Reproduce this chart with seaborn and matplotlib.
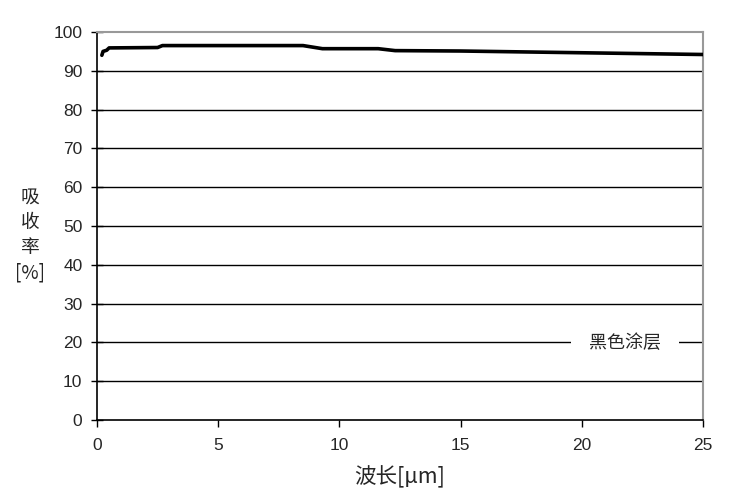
import matplotlib
matplotlib.use("Agg")
import matplotlib.pyplot as plt
import seaborn as sns
import pandas as pd

wavelength = [0.2, 0.25, 0.4, 0.5, 2.5, 2.7, 8.5, 9.3, 11.6, 12.3, 15.0, 25.0]
absorption = [94.0, 95.0, 95.3, 95.9, 96.0, 96.5, 96.5, 95.7, 95.7, 95.2, 95.1, 94.2]
series_name = "黑色涂层"
x_ticks = [0, 5, 10, 15, 20, 25]
y_ticks = [0, 10, 20, 30, 40, 50, 60, 70, 80, 90, 100]

sns.set_theme(style="white")
plt.rcParams['font.family'] = ['Liberation Sans', 'Noto Sans CJK SC', 'DejaVu Sans']

df = pd.DataFrame({"wavelength": wavelength, "absorption": absorption, "series": series_name})

fig = plt.figure(figsize=(7.29, 5.03), dpi=100)
ax = fig.add_axes([97/729, 83/503, 606/729, 388/503])

for v in y_ticks[1:-1]:
    ax.axhline(v, color="black", lw=1.0, zorder=1)

sns.lineplot(data=df, x="wavelength", y="absorption", hue="series",
             palette=["black"], linewidth=2.6, ax=ax, zorder=3)

ax.set_xlim(0, 25)
ax.set_ylim(0, 100)
ax.set_xticks(x_ticks)
ax.set_yticks(y_ticks)
ax.tick_params(axis="x", direction="out", length=5, width=1, color="black",
               labelsize=12.5, pad=8, bottom=True)
ax.tick_params(axis="y", direction="inout", length=9, width=1, color="black",
               labelsize=12.5, pad=6, left=True)

for s in ["left", "bottom"]:
    ax.spines[s].set_color("black")
    ax.spines[s].set_linewidth(1.2)
for s in ["top", "right"]:
    ax.spines[s].set_color("#999999")
    ax.spines[s].set_linewidth(1.5)

ax.set_xlabel("波长[μm]", fontsize=15.5, labelpad=9,
              family=['Noto Sans CJK SC', 'DejaVu Sans'])
ax.set_ylabel("")
fig.text(30/729, 1 - 235/503, "吸\n收\n率\n[%]", fontsize=13.5, ha="center", va="center",
         linespacing=1.25, family=['Noto Sans CJK SC', 'DejaVu Sans'])

leg = ax.legend(loc="center", bbox_to_anchor=(0.871, 0.198), handlelength=0,
                handletextpad=0, frameon=True, fancybox=False, borderpad=1.0,
                prop={'family': ['Noto Sans CJK SC', 'DejaVu Sans'], 'size': 13})
for h in leg.legend_handles:
    h.set_visible(False)
leg.get_frame().set_facecolor("white")
leg.get_frame().set_edgecolor("none")
leg.get_frame().set_alpha(1)
leg.set_zorder(5)

fig.savefig("out.png", dpi=100)
